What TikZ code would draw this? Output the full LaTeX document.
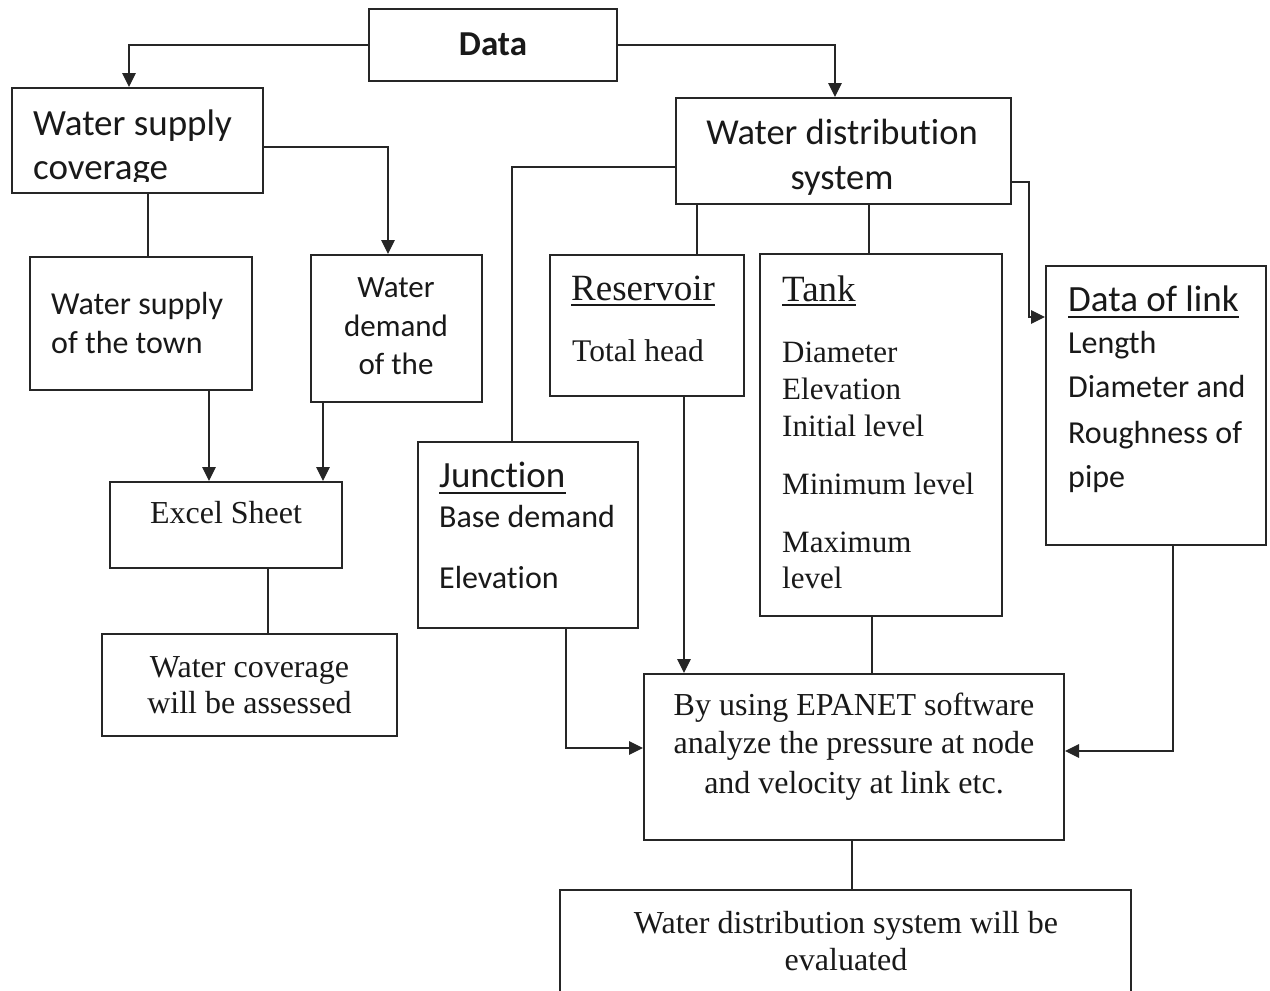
\documentclass[tikz,border=0pt]{standalone}
\usepackage{fontspec}
\setmainfont{Liberation Serif}
\newfontfamily\sansfnt[Ligatures = NoCommon]{Carlito}
\usetikzlibrary{arrows.meta}
\tikzset{
    box/.style = {draw = black!85, line width = 2pt, inner sep = 0pt},
    flow/.style = {draw = black!85, line width = 1.2pt, -{Triangle[length = 14pt, width = 13.5pt]}},
    tie/.style = {draw = black!85, line width = 2.5pt},
    sanstxt/.style = {font = \sansfnt\fontsize{32}{38}\selectfont, inner sep = 0pt, text = black!90},
    sanshead/.style = {font = \sansfnt\fontsize{37}{44}\selectfont, inner sep = 0pt, text = black!90},
    seriftxt/.style = {font = \fontsize{32}{38}\selectfont, inner sep = 0pt, text = black!90},
    serifhead/.style = {font = \fontsize{37}{44}\selectfont, inner sep = 0pt, text = black!90},
    uline/.style = {draw = black!90, line width = 1.8pt}
}
\begin{document}
\begin{tikzpicture}[x = 1pt, y = -1pt]
    \useasboundingbox (0,0) rectangle (1270,991);
    \clip (0,0) rectangle (1270,991);
    \fill[white] (0,0) rectangle (1270,991);
    \node[box, minimum width = 248pt, minimum height = 72pt] (data) at (493,45) {};
    \node[box, minimum width = 251pt, minimum height = 105pt] (wsc) at (137.5,140.5) {};
    \node[box, minimum width = 335pt, minimum height = 106pt] (wds) at (843.5,151) {};
    \node[box, minimum width = 222pt, minimum height = 133pt] (wst) at (141,323.5) {};
    \node[box, minimum width = 171pt, minimum height = 147pt] (wdem) at (396.5,328.5) {};
    \node[box, minimum width = 194pt, minimum height = 141pt] (res) at (647,325.5) {};
    \node[box, minimum width = 242pt, minimum height = 362pt] (tank) at (881,435) {};
    \node[box, minimum width = 220pt, minimum height = 279pt] (link) at (1156,405.5) {};
    \node[box, minimum width = 220pt, minimum height = 186pt] (junc) at (528,535) {};
    \node[box, minimum width = 232pt, minimum height = 86pt] (excel) at (226,525) {};
    \node[box, minimum width = 295pt, minimum height = 102pt] (cover) at (249.5,685) {};
    \node[box, minimum width = 420pt, minimum height = 166pt] (epanet) at (854,757) {};
    \node[box, minimum width = 571pt, minimum height = 120pt] (final) at (845.5,950) {};
    \node[sanstxt, font = \sansfnt\bfseries\fontsize{35}{42}\selectfont, anchor = base] (datatxt) at (493,55) {Data};
    \begin{scope}
        \clip (12,88) rectangle (263,181);
        \node[sanstxt, font = \sansfnt\fontsize{37}{44}\selectfont, anchor = base west] (wsctxt1) at (33,135) {Water supply};
        \node[sanstxt, font = \sansfnt\fontsize{37}{44}\selectfont, anchor = base west] (wsctxt2) at (33,179) {coverage};
    \end{scope}
    \node[sanstxt, font = \sansfnt\fontsize{36.5}{44}\selectfont, anchor = base] (wdstxt1) at (842,144) {Water distribution};
    \node[sanstxt, font = \sansfnt\fontsize{36.5}{44}\selectfont, anchor = base] (wdstxt2) at (842,189) {system};
    \node[sanstxt, anchor = base west] (wsttxt1) at (51,314) {Water supply};
    \node[sanstxt, anchor = base west] (wsttxt2) at (51,353) {of the town};
    \node[sanstxt, font = \sansfnt\fontsize{31}{38}\selectfont, anchor = base] (wdemtxt1) at (396,297) {Water};
    \node[sanstxt, font = \sansfnt\fontsize{31}{38}\selectfont, anchor = base] (wdemtxt2) at (396,336) {demand};
    \node[sanstxt, font = \sansfnt\fontsize{31}{38}\selectfont, anchor = base] (wdemtxt3) at (396,374) {of the};
    \node[serifhead, anchor = base west] (restitle) at (571,300) {Reservoir};
    \draw[uline] ([yshift = -5pt]restitle.base west) -- ([yshift = -5pt]restitle.base east);
    \node[seriftxt, font = \fontsize{31.5}{38}\selectfont, anchor = base west] (restxt) at (572,361) {Total head};
    \node[serifhead, anchor = base west] (tanktitle) at (782,301) {Tank};
    \draw[uline] ([yshift = -4pt]tanktitle.base west) -- ([yshift = -4pt]tanktitle.base east);
    \foreach \ln/\yy [count = \i] in {Diameter/362, Elevation/399, Initial level/436, Minimum level/494, Maximum/552, level/588}
        \node[seriftxt, font = \fontsize{31}{38}\selectfont, anchor = base west] (tanktxt\i) at (782,\yy) {\ln};
    \node[sanshead, anchor = base west] (linktitle) at (1068,311) {Data of link};
    \draw[uline] ([yshift = -6pt]linktitle.base west) -- ([yshift = -6pt]linktitle.base east);
    \foreach \ln/\yy [count = \i] in {Length/353, Diameter and/397, Roughness of/443, pipe/487}
        \node[sanstxt, anchor = base west] (linktxt\i) at (1068,\yy) {\ln};
    \node[sanshead, anchor = base west] (junctitle) at (439,487) {Junction};
    \draw[uline] ([yshift = -6pt]junctitle.base west) -- ([yshift = -6pt]junctitle.base east);
    \node[sanstxt, anchor = base west] (junctxt1) at (439,527) {Base demand};
    \node[sanstxt, anchor = base west] (junctxt2) at (439,588) {Elevation};
    \node[seriftxt, anchor = base] (exceltxt) at (226,523) {Excel Sheet};
    \node[seriftxt, anchor = base] (covertxt1) at (249.5,677) {Water coverage};
    \node[seriftxt, anchor = base] (covertxt2) at (249.5,713) {will be assessed};
    \node[seriftxt, anchor = base] (epanettxt1) at (854,715) {By using EPANET software};
    \node[seriftxt, anchor = base] (epanettxt2) at (854,753) {analyze the pressure at node};
    \node[seriftxt, anchor = base] (epanettxt3) at (854,793) {and velocity at link etc.};
    \node[seriftxt, anchor = base] (finaltxt1) at (846,933) {Water distribution system will be};
    \node[seriftxt, anchor = base] (finaltxt2) at (846,970) {evaluated};
    \draw[flow] (data.west) -| ([xshift = -8.5pt]wsc.north);
    \draw[flow] (data.east) -| ([xshift = -8.5pt]wds.north);
    \draw[flow] ([yshift = -6.5pt]wsc.east) -| ([xshift = -8.5pt]wdem.north);
    \draw[tie] ([xshift = 10.5pt]wsc.south) -- ([xshift = 10.5pt]wsc.south |- wst.north);
    \draw[tie, line width = 1.8pt] ([yshift = -16pt]wds.west) -| ([xshift = -16pt]junc.north);
    \draw[tie] ([xshift = 50pt]res.north) -- ([xshift = 50pt]res.north |- wds.south);
    \draw[tie] ([xshift = -12pt]tank.north) -- ([xshift = -12pt]tank.north |- wds.south);
    \draw[flow] ([yshift = -31pt]wds.east) -- ++(17,0) |- ([yshift = 88.5pt]link.west);
    \draw[flow] ([xshift = -17pt]excel.north |- wst.south) -- ([xshift = -17pt]excel.north);
    \draw[flow] ([xshift = 97pt]excel.north |- wdem.south) -- ([xshift = 97pt]excel.north);
    \draw[tie] ([xshift = 42pt]excel.south) -- ([xshift = 42pt]excel.south |- cover.north);
    \draw[flow] ([xshift = -170pt]epanet.north |- res.south) -- ([xshift = -170pt]epanet.north);
    \draw[flow] ([xshift = 38pt]junc.south) |- ([yshift = 9pt]epanet.west);
    \draw[tie] ([xshift = -9pt]tank.south) -- ([xshift = -9pt]tank.south |- epanet.north);
    \draw[flow] ([xshift = 17pt]link.south) |- ([yshift = 6pt]epanet.east);
    \draw[tie] ([xshift = -2pt]epanet.south) -- ([xshift = -2pt]epanet.south |- final.north);
\end{tikzpicture}
\end{document}
